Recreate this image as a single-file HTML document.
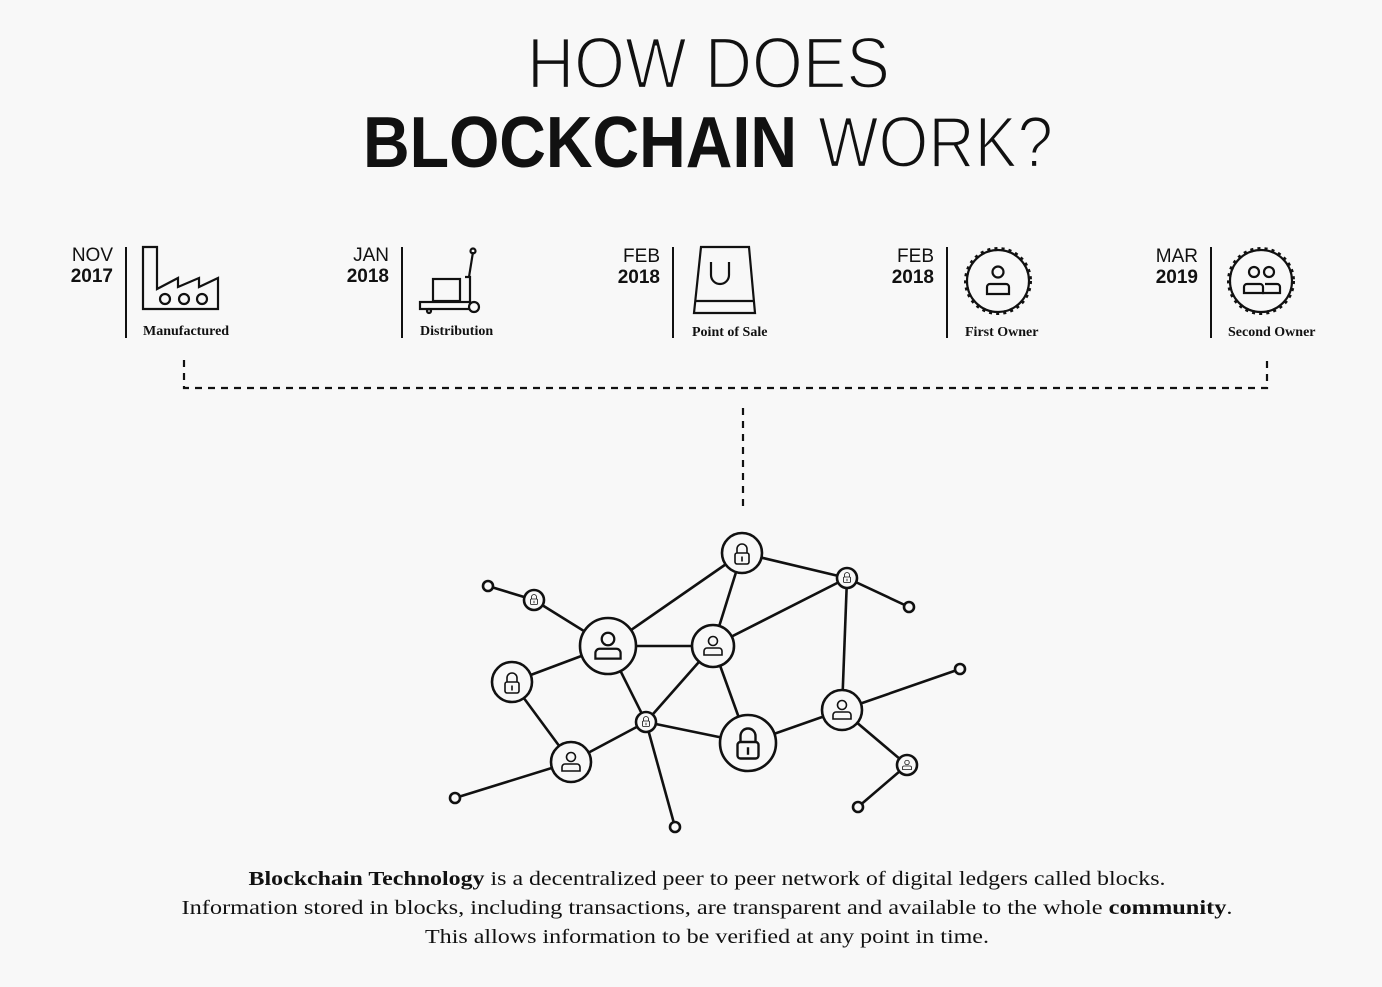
<!DOCTYPE html>
<html><head><meta charset="utf-8"><style>
html,body{margin:0;padding:0;background:#f8f8f8;}
svg{display:block}
.d{font-family:"Liberation Sans",sans-serif;font-size:19px;fill:#111}
.l{font-family:"Liberation Serif",serif;font-size:14px;font-weight:bold;fill:#111}
.p{font-family:"Liberation Serif",serif;font-size:20px;fill:#111}
</style></head><body>
<svg width="1382" height="987" viewBox="0 0 1382 987" xmlns="http://www.w3.org/2000/svg">
<defs>
<g id="lock"><path d="M-5,-2 V-6 A5,5 0 0 1 5,-6 V-2" fill="none" stroke="#111" stroke-width="1.6"/><rect x="-7" y="-2" width="14" height="11" rx="2" fill="none" stroke="#111" stroke-width="1.6"/><rect x="-0.8" y="1.5" width="1.6" height="5" fill="#111"/></g>
<g id="user"><circle cx="0" cy="-5" r="4.5" fill="none" stroke="#111" stroke-width="1.6"/><path d="M-9,9 V5 A3,3 0 0 1 -6,2 H6 A3,3 0 0 1 9,5 V9 Z" fill="none" stroke="#111" stroke-width="1.6"/></g>
</defs>
<rect width="1382" height="987" fill="#f8f8f8"/>
<text x="527" y="88" font-family="Liberation Sans,sans-serif" font-size="72" fill="#111" stroke="#f8f8f8" stroke-width="2.2" paint-order="fill" textLength="363" lengthAdjust="spacingAndGlyphs">HOW DOES</text>
<text x="363" y="167" font-family="Liberation Sans,sans-serif" font-size="72" font-weight="bold" fill="#111" textLength="434" lengthAdjust="spacingAndGlyphs">BLOCKCHAIN</text>
<text x="818" y="167" font-family="Liberation Sans,sans-serif" font-size="72" fill="#111" stroke="#f8f8f8" stroke-width="2.2" paint-order="fill" textLength="235" lengthAdjust="spacingAndGlyphs">WORK?</text>

<g stroke="#111" stroke-width="2">
<line x1="126" y1="247" x2="126" y2="338"/><line x1="402" y1="247" x2="402" y2="338"/><line x1="673" y1="247" x2="673" y2="338"/><line x1="947" y1="247" x2="947" y2="338"/><line x1="1211" y1="247" x2="1211" y2="338"/>
</g>
<g class="d" text-anchor="end">
<text x="113" y="261">NOV</text><text x="113" y="282" font-weight="bold">2017</text>
<text x="389" y="261">JAN</text><text x="389" y="282" font-weight="bold">2018</text>
<text x="660" y="262">FEB</text><text x="660" y="283" font-weight="bold">2018</text>
<text x="934" y="262">FEB</text><text x="934" y="283" font-weight="bold">2018</text>
<text x="1198" y="262">MAR</text><text x="1198" y="283" font-weight="bold">2019</text>
</g>
<g class="l">
<text x="143" y="335">Manufactured</text><text x="420" y="335">Distribution</text><text x="692" y="336">Point of Sale</text><text x="965" y="336">First Owner</text><text x="1228" y="336">Second Owner</text>
</g>
<g fill="none" stroke="#111" stroke-width="2.2">
<path d="M143,247 V309 H218 V278 L199,287 V278 L178,287 V278 L157,289 V247 Z"/>
<circle cx="165" cy="299" r="5"/><circle cx="184" cy="299" r="5"/><circle cx="202" cy="299" r="5"/>
<line x1="473" y1="252" x2="469" y2="277"/><circle cx="473" cy="251" r="2.5"/>
<path d="M465,277 H470 L470,302"/>
<rect x="433" y="279" width="27" height="22"/>
<rect x="420" y="302" width="50" height="7"/>
<circle cx="474" cy="307" r="5" fill="#f8f8f8"/><circle cx="429" cy="311" r="2"/>
<path d="M701,247 H749 L755,313 H694 Z"/><line x1="695" y1="301" x2="754" y2="301"/>
<path d="M711,262 V275 A8,8 0 0 0 729,275 V262"/>
<circle cx="998" cy="281" r="31"/><circle cx="998" cy="281" r="32" stroke-width="4" stroke-dasharray="3 4"/>
<circle cx="1261" cy="281" r="31"/><circle cx="1261" cy="281" r="32" stroke-width="4" stroke-dasharray="3 4"/>
<circle cx="998" cy="272" r="5.5"/><path d="M987,294 V287 A3,3 0 0 1 990,284 H1006 A3,3 0 0 1 1009,287 V294 Z"/>
<circle cx="1254" cy="272" r="5"/><circle cx="1269" cy="272" r="5"/>
<path d="M1262,293 H1280 V287 A3,3 0 0 0 1277,284 H1265"/>
<path d="M1244,293 V287 A3,3 0 0 1 1247,284 H1260 A3,3 0 0 1 1263,287 V293 Z"/>
</g>

<g fill="none" stroke="#111" stroke-width="2.2" stroke-dasharray="7 6">
<path d="M184,360 V388 H1267 V360"/>
<line x1="743" y1="408" x2="743" y2="512"/>
</g>

<g stroke="#111" stroke-width="2.6">
<line x1="488" y1="586" x2="534" y2="600"/><line x1="534" y1="600" x2="608" y2="646"/>
<line x1="608" y1="646" x2="742" y2="553"/><line x1="742" y1="553" x2="713" y2="646"/>
<line x1="742" y1="553" x2="847" y2="578"/><line x1="847" y1="578" x2="909" y2="607"/>
<line x1="847" y1="578" x2="713" y2="646"/><line x1="847" y1="578" x2="842" y2="710"/>
<line x1="608" y1="646" x2="713" y2="646"/><line x1="608" y1="646" x2="512" y2="682"/>
<line x1="608" y1="646" x2="646" y2="722"/><line x1="713" y1="646" x2="646" y2="722"/>
<line x1="713" y1="646" x2="748" y2="743"/><line x1="512" y1="682" x2="571" y2="762"/>
<line x1="571" y1="762" x2="646" y2="722"/><line x1="571" y1="762" x2="455" y2="798"/>
<line x1="646" y1="722" x2="748" y2="743"/><line x1="646" y1="722" x2="675" y2="827"/>
<line x1="748" y1="743" x2="842" y2="710"/><line x1="842" y1="710" x2="960" y2="669"/>
<line x1="842" y1="710" x2="907" y2="765"/><line x1="907" y1="765" x2="858" y2="807"/>
</g>
<g fill="#f8f8f8" stroke="#111" stroke-width="2.6">
<circle cx="742" cy="553" r="20"/><circle cx="847" cy="578" r="10"/><circle cx="909" cy="607" r="5"/>
<circle cx="488" cy="586" r="5"/><circle cx="534" cy="600" r="10"/><circle cx="608" cy="646" r="28"/>
<circle cx="713" cy="646" r="21"/><circle cx="512" cy="682" r="20"/><circle cx="646" cy="722" r="10"/>
<circle cx="748" cy="743" r="28"/><circle cx="842" cy="710" r="20"/><circle cx="960" cy="669" r="5"/>
<circle cx="571" cy="762" r="20"/><circle cx="455" cy="798" r="5"/><circle cx="675" cy="827" r="5"/>
<circle cx="907" cy="765" r="10"/><circle cx="858" cy="807" r="5"/>
</g>
<use href="#lock" transform="translate(742,555)"/>
<use href="#lock" transform="translate(847,578) scale(0.5)"/>
<use href="#lock" transform="translate(534,600) scale(0.5)"/>
<use href="#lock" transform="translate(646,722) scale(0.5)"/>
<use href="#lock" transform="translate(512,684)"/>
<use href="#lock" transform="translate(748,745) scale(1.5)"/>
<use href="#user" transform="translate(608,646) scale(1.4)"/>
<use href="#user" transform="translate(713,646)"/>
<use href="#user" transform="translate(842,710)"/>
<use href="#user" transform="translate(571,762)"/>
<use href="#user" transform="translate(907,765) scale(0.5)"/>

<g class="p" text-anchor="middle">
<text x="707" y="885" textLength="917" lengthAdjust="spacingAndGlyphs"><tspan font-weight="bold">Blockchain Technology</tspan> is a decentralized peer to peer network of digital ledgers called blocks.</text>
<text x="707" y="914" textLength="1051" lengthAdjust="spacingAndGlyphs">Information stored in blocks, including transactions, are transparent and available to the whole <tspan font-weight="bold">community</tspan>.</text>
<text x="707" y="943" textLength="564" lengthAdjust="spacingAndGlyphs">This allows information to be verified at any point in time.</text>
</g>
</svg>
</body></html>
